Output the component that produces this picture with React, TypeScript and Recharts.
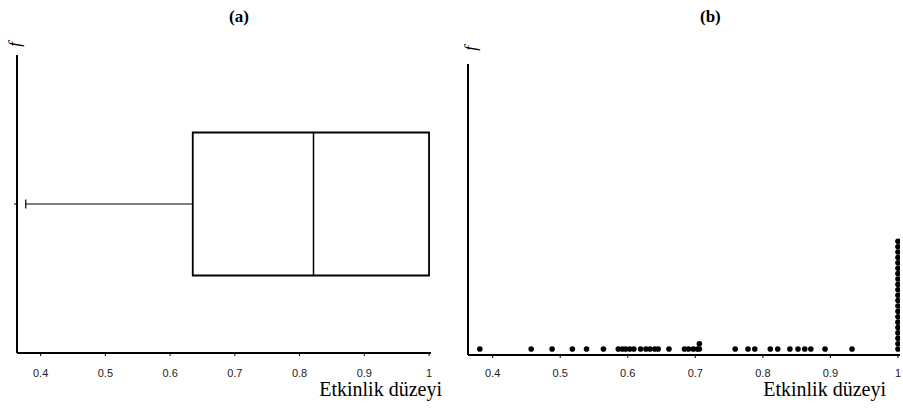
import React from 'react';
import { ComposedChart, Scatter, XAxis, YAxis, ReferenceArea, ReferenceLine } from 'recharts';

// tick labels on the efficiency axis
const xTicks = [0.4, 0.5, 0.6, 0.7, 0.8, 0.9, 1];

// (a) box plot: min, q1, median, q3, max
const boxStats = [0.377, 0.635, 0.8215, 1.0, 1.0];

// (b) efficiency scores, one dot per unit
const scores = [
  0.381, 0.457, 0.488, 0.518, 0.539, 0.564,
  0.586, 0.592, 0.597, 0.603, 0.609, 0.619, 0.627, 0.633, 0.64, 0.645, 0.661,
  0.684, 0.69, 0.697, 0.703, 0.706, 0.706,
  0.759, 0.778, 0.788, 0.811, 0.822, 0.84, 0.852, 0.862, 0.871, 0.892, 0.932,
  1, 1, 1, 1, 1, 1, 1, 1, 1, 1, 1, 1, 1, 1, 1, 1, 1, 1, 1, 1, 1,
];

const xDomain = [0.3635, 1.003];

// stack equal scores on top of each other
const seen: Record<string, number> = {};
const dots = scores.map(s => {
  const k = String(s);
  const i = seen[k] || 0;
  seen[k] = i + 1;
  return { x: s, y: 1.1 + i };
});

const tickFont = { fontFamily: 'Liberation Sans, Arial, sans-serif', fontSize: 11, fill: '#222' };
const fmt = (v: number) => (v === 1 ? '1' : v.toFixed(1));

const abs = (left: number, top: number, extra: React.CSSProperties = {}): React.CSSProperties => ({
  position: 'absolute', left, top, fontFamily: '"Liberation Serif", "Times New Roman", serif', color: '#000', ...extra,
});

const Dot = (p: any) => <circle cx={p.cx} cy={p.cy} r={2.8} fill="#000" />;
const Nothing = () => <g />;

export default function App() {
  const [mn, q1, med, q3, mx] = boxStats;
  return (
    <div style={{ position: 'absolute', left: 0, top: 0, width: 903, height: 408, background: '#fff', overflow: 'hidden' }}>
      <div style={{ position: 'absolute', left: 0, top: 0 }}>
        <ComposedChart width={450} height={408} margin={{ top: 55, right: 19, bottom: 30, left: 7 }}>
          <XAxis type="number" dataKey="x" domain={xDomain} ticks={xTicks} tickFormatter={fmt}
            allowDataOverflow height={25} tick={tickFont} tickSize={3} tickMargin={13}
            axisLine={{ stroke: '#000', strokeWidth: 2 }} tickLine={{ stroke: '#000' }} />
          <YAxis type="number" dataKey="y" domain={[0, 10]} ticks={[5]} tickFormatter={() => ''}
            width={10} tickSize={3} axisLine={{ stroke: '#000', strokeWidth: 2 }} tickLine={{ stroke: '#000' }} />
          <Scatter data={[{ x: mn, y: 5 }, { x: mx, y: 5 }]} shape={Nothing} isAnimationActive={false} />
          <ReferenceLine segment={[{ x: mn, y: 5 }, { x: q1, y: 5 }]} stroke="#000" strokeWidth={1.2} />
          <ReferenceLine segment={[{ x: mn, y: 4.85 }, { x: mn, y: 5.15 }]} stroke="#000" strokeWidth={1.2} />
          <ReferenceArea x1={q1} x2={q3} y1={2.6} y2={7.4} fill="none" fillOpacity={0} stroke="#000" strokeWidth={1.8} ifOverflow="visible" />
          <ReferenceLine segment={[{ x: med, y: 2.6 }, { x: med, y: 7.4 }]} stroke="#000" strokeWidth={1.5} />
        </ComposedChart>
      </div>
      <div style={{ position: 'absolute', left: 450, top: 0 }}>
        <ComposedChart width={453} height={408} margin={{ top: 64, right: 3, bottom: 28, left: 8 }}>
          <XAxis type="number" dataKey="x" domain={xDomain} ticks={xTicks} tickFormatter={fmt}
            allowDataOverflow height={25} tick={tickFont} tickSize={3} tickMargin={11}
            axisLine={{ stroke: '#000', strokeWidth: 2 }} tickLine={{ stroke: '#000' }} />
          <YAxis type="number" dataKey="y" domain={[0, 54]} ticks={[]} width={10} tick={false}
            axisLine={{ stroke: '#000', strokeWidth: 2 }} tickLine={false} />
          <Scatter data={dots} shape={Dot} isAnimationActive={false} />
        </ComposedChart>
      </div>

      <div style={abs(229, 7, { fontSize: 17, fontWeight: 'bold', lineHeight: '20px' })}>(a)</div>
      <div style={abs(700, 7, { fontSize: 17, fontWeight: 'bold', lineHeight: '20px' })}>(b)</div>

      <div style={abs(12, 36, { fontSize: 17, fontStyle: 'italic', lineHeight: '17px', transform: 'rotate(-90deg)' })}>f</div>
      <div style={abs(468, 40, { fontSize: 17, fontStyle: 'italic', lineHeight: '17px', transform: 'rotate(-90deg)' })}>f</div>

      <div style={abs(262, 378, { width: 180, textAlign: 'right', fontSize: 20, lineHeight: '22px' })}>Etkinlik düzeyi</div>
      <div style={abs(706, 378, { width: 180, textAlign: 'right', fontSize: 20, lineHeight: '22px' })}>Etkinlik düzeyi</div>
    </div>
  );
}
